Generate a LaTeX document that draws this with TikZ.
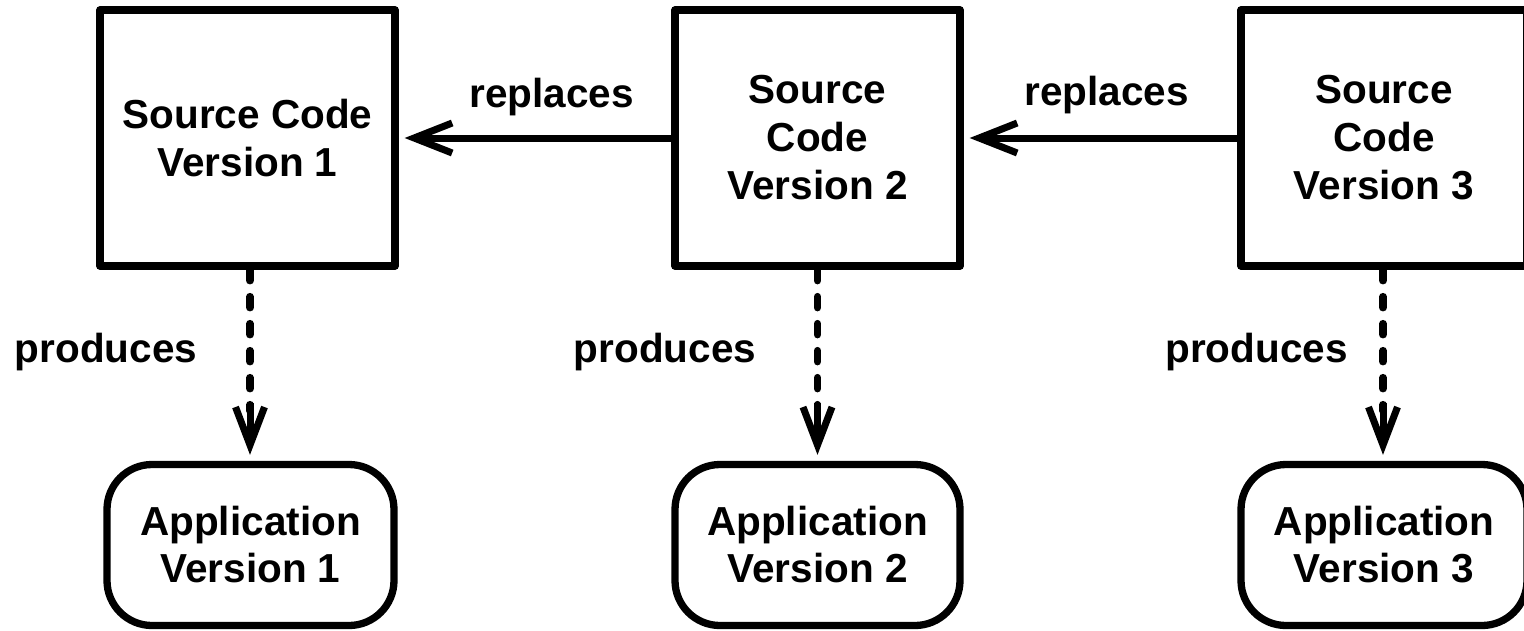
\documentclass[tikz,border=0pt]{standalone}
\usepackage{fontspec}
\setmainfont{Liberation Sans}
\usetikzlibrary{arrows.meta,calc}
\tikzset{
  srcbox/.style={draw, line width=7.3pt, line join=round, rectangle, align=center, inner sep=0pt,
    font=\fontsize{40.5}{48}\selectfont\bfseries},
  appbox/.style={draw, line width=7.3pt, rectangle, rounded corners=45pt, align=center, inner sep=0pt,
    font=\fontsize{40.5}{47}\selectfont\bfseries},
  lbl/.style={inner sep=0pt, anchor=base, font=\fontsize{40.5}{48}\selectfont\bfseries},
  replarrow/.style={line width=7pt, -{Straight Barb[length=38pt,width=30pt,line width=7pt]}, shorten >=6pt},
  prodline/.style={line width=7.5pt, line cap=round, dash pattern=on 11pt off 16pt, shorten >=50pt},
  prodtip/.style={line width=7pt, -{Straight Barb[length=38pt,width=29pt,line width=7pt]}, shorten >=6pt}
}
\begin{document}
\begin{tikzpicture}[x=1pt,y=-1pt]
\useasboundingbox (0,0) rectangle (1524,630);
\fill[white] (0,0) rectangle (1524,630);
\node[srcbox, minimum width=295pt, minimum height=256pt] (b1) at (247.5,138) {Source Code\\Version 1};
\node[srcbox, minimum width=285pt, minimum height=256pt] (b2) at (817.5,138) {Source\\Code\\Version 2};
\node[srcbox, minimum width=286pt, minimum height=256pt] (b3) at (1384,138) {Source\\Code\\Version 3};
\node[appbox, minimum width=287pt, minimum height=161pt] (a1) at (250.5,545) {Application\\Version 1};
\node[appbox, minimum width=285pt, minimum height=161pt] (a2) at (817.5,545) {Application\\Version 2};
\node[appbox, minimum width=286pt, minimum height=161pt] (a3) at (1384,545) {Application\\Version 3};
\draw[replarrow] (b2.west |- 0,138) -- (b1.east |- 0,138);
\draw[replarrow] (b3.west |- 0,138) -- (b2.east |- 0,138);
\coordinate (c1) at (250,0);
\coordinate (c2) at (817.5,0);
\coordinate (c3) at (1383,0);
\draw[prodline] (b1.south -| c1) -- (a1.north -| c1);
\draw[prodline] (b2.south -| c2) -- (a2.north -| c2);
\draw[prodline] (b3.south -| c3) -- (a3.north -| c3);
\draw[prodtip] ($(a1.north -| c1)+(0,-58)$) -- (a1.north -| c1);
\draw[prodtip] ($(a2.north -| c2)+(0,-58)$) -- (a2.north -| c2);
\draw[prodtip] ($(a3.north -| c3)+(0,-58)$) -- (a3.north -| c3);
\node[lbl] (r1) at (551.5,107) {replaces};
\node[lbl] (r2) at (1106.5,105) {replaces};
\node[lbl] (p1) at (106,362) {produces};
\node[lbl] (p2) at (665,362) {produces};
\node[lbl] (p3) at (1256.5,362) {produces};
\end{tikzpicture}
\end{document}
